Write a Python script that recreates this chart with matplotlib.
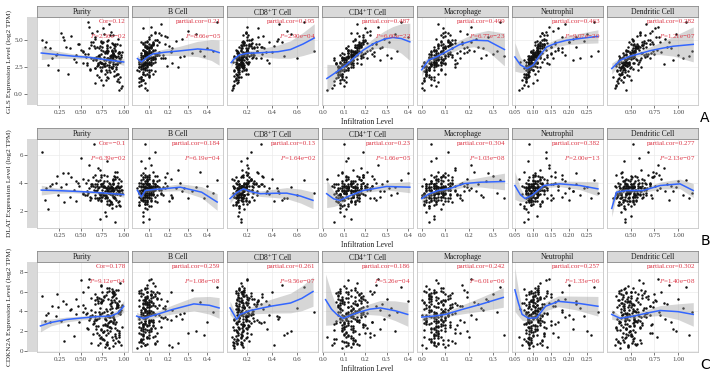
import numpy as np
import matplotlib
matplotlib.use("Agg")
import matplotlib.pyplot as plt

plt.rcParams['font.family'] = ['Liberation Serif', 'DejaVu Serif']
plt.rcParams['mathtext.fontset'] = 'stix'

# ---- sample values (one entry per tumour sample) ----
purity = [0.92, 0.85, 0.97, 0.78, 0.88, 0.95, 0.71, 0.83, 0.90, 0.66,
          0.81, 0.93, 0.74, 0.98, 0.86, 0.62, 0.89, 0.77, 0.95, 0.84,
          0.70, 0.91, 0.87, 0.24, 0.79, 0.96, 0.83, 0.58, 0.92, 0.75,
          0.88, 0.67, 0.94, 0.80, 0.52, 0.85, 0.73, 0.90, 0.12, 0.82,
          0.76, 0.97, 0.61, 0.86, 0.79, 0.35, 0.91, 0.69, 0.84, 0.72,
          0.93, 0.57, 0.81, 0.45, 0.88, 0.74, 0.65, 0.96, 0.78, 0.21,
          0.68, 0.86, 0.77, 0.90, 0.55, 0.83, 0.08, 0.72, 0.94, 0.63,
          0.80, 0.42, 0.89, 0.71, 0.64, 0.92, 0.50, 0.85, 0.30, 0.76,
          0.59, 0.87, 0.74, 0.17, 0.81, 0.66, 0.93, 0.48, 0.70, 0.83,
          0.62, 0.78, 0.39, 0.86, 0.56, 0.73, 0.27, 0.90, 0.68, 0.05,
          0.75, 0.53, 0.84, 0.33, 0.69, 0.44, 0.80, 0.60, 0.14, 0.72,
          0.47, 0.66, 0.22, 0.77, 0.38, 0.58, 0.10, 0.71, 0.29, 0.52,
          0.82, 0.91, 0.76, 0.88, 0.69, 0.95, 0.84, 0.73, 0.90, 0.79,
          0.86, 0.64, 0.93, 0.81, 0.77, 0.89, 0.70, 0.96, 0.83, 0.75,
          0.92, 0.80, 0.67, 0.87, 0.74, 0.94, 0.78, 0.85, 0.61, 0.90,
          0.72, 0.88, 0.83, 0.97, 0.76, 0.68, 0.91, 0.80, 0.86, 0.57,
          0.94, 0.79, 0.87, 0.71, 0.84, 0.92, 0.65, 0.89, 0.77, 0.82,
          0.85, 0.73, 0.96, 0.80, 0.88, 0.62, 0.91, 0.75, 0.83, 0.98,
          0.78, 0.90, 0.70, 0.86, 0.81, 0.93, 0.74, 0.87, 0.66, 0.84,
          0.89, 0.76, 0.95, 0.82, 0.72, 0.88, 0.79, 0.92, 0.85, 0.69]
b_cell = [0.06, 0.05, 0.08, 0.07, 0.05, 0.09, 0.06, 0.04, 0.07, 0.08,
          0.07, 0.06, 0.09, 0.05, 0.08, 0.07, 0.10, 0.06, 0.05, 0.08,
          0.08, 0.10, 0.06, 0.09, 0.07, 0.11, 0.05, 0.08, 0.12, 0.07,
          0.09, 0.07, 0.11, 0.06, 0.10, 0.08, 0.13, 0.07, 0.09, 0.16,
          0.10, 0.08, 0.06, 0.12, 0.09, 0.07, 0.11, 0.19, 0.08, 0.10,
          0.07, 0.11, 0.09, 0.13, 0.06, 0.10, 0.08, 0.12, 0.22, 0.09,
          0.12, 0.08, 0.10, 0.07, 0.14, 0.09, 0.11, 0.25, 0.08, 0.13,
          0.09, 0.13, 0.11, 0.17, 0.08, 0.12, 0.10, 0.28, 0.14, 0.07,
          0.11, 0.15, 0.09, 0.13, 0.20, 0.10, 0.32, 0.12, 0.08, 0.16,
          0.14, 0.10, 0.18, 0.12, 0.26, 0.09, 0.15, 0.36, 0.11, 0.13,
          0.12, 0.21, 0.16, 0.10, 0.30, 0.14, 0.24, 0.11, 0.40, 0.17,
          0.18, 0.27, 0.13, 0.34, 0.22, 0.45, 0.15, 0.38, 0.19, 0.43,
          0.05, 0.07, 0.06, 0.09, 0.08, 0.05, 0.10, 0.07, 0.06, 0.11,
          0.08, 0.06, 0.09, 0.07, 0.12, 0.05, 0.08, 0.10, 0.06, 0.09,
          0.07, 0.10, 0.08, 0.06, 0.09, 0.11, 0.07, 0.05, 0.08, 0.13,
          0.06, 0.09, 0.07, 0.10, 0.08, 0.12, 0.06, 0.09, 0.11, 0.07,
          0.10, 0.08, 0.05, 0.09, 0.07, 0.11, 0.08, 0.14, 0.06, 0.10,
          0.09, 0.07, 0.12, 0.08, 0.10, 0.06, 0.09, 0.11, 0.08, 0.15,
          0.08, 0.11, 0.09, 0.07, 0.13, 0.10, 0.08, 0.12, 0.09, 0.18,
          0.10, 0.12, 0.08, 0.14, 0.09, 0.11, 0.21, 0.10, 0.13, 0.09]
cd8_t = [0.10, 0.12, 0.09, 0.14, 0.11, 0.08, 0.13, 0.10, 0.15, 0.12,
         0.13, 0.11, 0.16, 0.09, 0.14, 0.12, 0.10, 0.17, 0.13, 0.11,
         0.15, 0.12, 0.10, 0.18, 0.13, 0.16, 0.11, 0.14, 0.19, 0.12,
         0.14, 0.17, 0.12, 0.15, 0.20, 0.13, 0.16, 0.11, 0.18, 0.24,
         0.16, 0.13, 0.19, 0.15, 0.12, 0.21, 0.14, 0.17, 0.28, 0.15,
         0.18, 0.14, 0.16, 0.22, 0.13, 0.19, 0.31, 0.15, 0.17, 0.20,
         0.17, 0.20, 0.15, 0.23, 0.18, 0.14, 0.26, 0.16, 0.35, 0.19,
         0.21, 0.16, 0.19, 0.25, 0.17, 0.38, 0.20, 0.15, 0.22, 0.29,
         0.19, 0.23, 0.17, 0.27, 0.42, 0.20, 0.18, 0.30, 0.21, 0.46,
         0.22, 0.18, 0.33, 0.20, 0.25, 0.48, 0.19, 0.28, 0.36, 0.23,
         0.24, 0.40, 0.21, 0.31, 0.52, 0.26, 0.44, 0.20, 0.34, 0.60,
         0.27, 0.45, 0.32, 0.55, 0.24, 0.66, 0.38, 0.50, 0.29, 0.74,
         0.11, 0.13, 0.10, 0.15, 0.12, 0.09, 0.14, 0.11, 0.16, 0.13,
         0.12, 0.15, 0.11, 0.17, 0.13, 0.10, 0.16, 0.14, 0.12, 0.18,
         0.14, 0.11, 0.17, 0.13, 0.15, 0.19, 0.12, 0.16, 0.14, 0.10,
         0.15, 0.18, 0.13, 0.16, 0.12, 0.20, 0.14, 0.17, 0.15, 0.21,
         0.16, 0.13, 0.19, 0.15, 0.17, 0.14, 0.22, 0.16, 0.18, 0.12,
         0.17, 0.20, 0.15, 0.18, 0.23, 0.16, 0.19, 0.14, 0.21, 0.17,
         0.19, 0.16, 0.22, 0.18, 0.15, 0.24, 0.20, 0.17, 0.26, 0.19,
         0.21, 0.18, 0.25, 0.20, 0.23, 0.17, 0.28, 0.22, 0.19, 0.32]
cd4_t = [0.05, 0.07, 0.04, 0.08, 0.06, 0.02, 0.07, 0.09, 0.05, 0.08,
         0.07, 0.09, 0.06, 0.10, 0.08, 0.05, 0.09, 0.07, 0.11, 0.08,
         0.09, 0.08, 0.11, 0.07, 0.10, 0.12, 0.08, 0.10, 0.09, 0.06,
         0.10, 0.12, 0.09, 0.11, 0.08, 0.13, 0.10, 0.12, 0.11, 0.09,
         0.11, 0.13, 0.10, 0.12, 0.14, 0.09, 0.12, 0.11, 0.15, 0.13,
         0.12, 0.14, 0.11, 0.13, 0.15, 0.12, 0.10, 0.16, 0.13, 0.14,
         0.13, 0.15, 0.12, 0.17, 0.14, 0.11, 0.16, 0.14, 0.18, 0.13,
         0.15, 0.13, 0.17, 0.14, 0.19, 0.16, 0.12, 0.18, 0.15, 0.20,
         0.16, 0.18, 0.14, 0.21, 0.17, 0.19, 0.15, 0.23, 0.18, 0.16,
         0.18, 0.20, 0.17, 0.22, 0.19, 0.25, 0.16, 0.21, 0.27, 0.19,
         0.21, 0.24, 0.19, 0.28, 0.22, 0.30, 0.20, 0.26, 0.23, 0.32,
         0.25, 0.29, 0.23, 0.34, 0.27, 0.37, 0.31, 0.24, 0.40, 0.35,
         0.06, 0.08, 0.05, 0.09, 0.07, 0.10, 0.06, 0.08, 0.09, 0.07,
         0.08, 0.10, 0.07, 0.11, 0.09, 0.08, 0.12, 0.09, 0.10, 0.07,
         0.10, 0.09, 0.12, 0.08, 0.11, 0.13, 0.10, 0.09, 0.11, 0.12,
         0.11, 0.13, 0.10, 0.12, 0.14, 0.11, 0.13, 0.12, 0.10, 0.14,
         0.12, 0.14, 0.13, 0.11, 0.15, 0.13, 0.12, 0.16, 0.14, 0.13,
         0.14, 0.13, 0.16, 0.15, 0.12, 0.17, 0.14, 0.15, 0.13, 0.16,
         0.15, 0.17, 0.14, 0.18, 0.16, 0.15, 0.19, 0.17, 0.16, 0.18,
         0.17, 0.19, 0.16, 0.20, 0.18, 0.22, 0.17, 0.19, 0.21, 0.18]
macrophage = [0.01, 0.03, 0.00, 0.02, 0.04, 0.01, 0.05, 0.02, 0.03, 0.00,
              0.02, 0.04, 0.01, 0.06, 0.03, 0.05, 0.02, 0.04, 0.07, 0.01,
              0.04, 0.02, 0.06, 0.03, 0.05, 0.08, 0.01, 0.04, 0.07, 0.03,
              0.05, 0.03, 0.07, 0.04, 0.09, 0.06, 0.02, 0.05, 0.08, 0.04,
              0.06, 0.04, 0.08, 0.05, 0.07, 0.10, 0.03, 0.06, 0.09, 0.05,
              0.07, 0.05, 0.09, 0.06, 0.11, 0.08, 0.04, 0.07, 0.10, 0.06,
              0.08, 0.06, 0.10, 0.07, 0.12, 0.09, 0.05, 0.14, 0.08, 0.11,
              0.09, 0.07, 0.12, 0.10, 0.08, 0.15, 0.06, 0.11, 0.13, 0.09,
              0.10, 0.13, 0.08, 0.16, 0.11, 0.09, 0.18, 0.12, 0.14, 0.07,
              0.12, 0.15, 0.10, 0.20, 0.13, 0.17, 0.09, 0.22, 0.14, 0.11,
              0.14, 0.19, 0.12, 0.24, 0.16, 0.27, 0.11, 0.21, 0.18, 0.25,
              0.17, 0.23, 0.30, 0.19, 0.26, 0.33, 0.21, 0.35, 0.28, 0.32,
              0.01, 0.02, 0.04, 0.00, 0.03, 0.05, 0.02, 0.01, 0.04, 0.03,
              0.03, 0.05, 0.02, 0.06, 0.04, 0.01, 0.05, 0.03, 0.07, 0.02,
              0.04, 0.06, 0.03, 0.05, 0.08, 0.04, 0.02, 0.06, 0.05, 0.07,
              0.05, 0.03, 0.07, 0.06, 0.04, 0.08, 0.05, 0.09, 0.03, 0.06,
              0.06, 0.08, 0.04, 0.07, 0.10, 0.05, 0.07, 0.06, 0.09, 0.08,
              0.07, 0.05, 0.09, 0.08, 0.06, 0.11, 0.07, 0.10, 0.08, 0.12,
              0.08, 0.10, 0.07, 0.12, 0.09, 0.06, 0.11, 0.09, 0.13, 0.10,
              0.10, 0.12, 0.09, 0.14, 0.11, 0.08, 0.16, 0.13, 0.10, 0.19]
neutrophil = [0.080, 0.090, 0.070, 0.085, 0.095, 0.060, 0.080, 0.090, 0.075, 0.100,
              0.090, 0.080, 0.100, 0.085, 0.075, 0.095, 0.090, 0.105, 0.080, 0.065,
              0.095, 0.085, 0.100, 0.090, 0.110, 0.080, 0.095, 0.105, 0.075, 0.090,
              0.100, 0.090, 0.105, 0.085, 0.110, 0.095, 0.115, 0.100, 0.080, 0.120,
              0.100, 0.110, 0.095, 0.115, 0.090, 0.105, 0.120, 0.100, 0.130, 0.085,
              0.105, 0.095, 0.115, 0.110, 0.125, 0.100, 0.090, 0.120, 0.140, 0.105,
              0.110, 0.120, 0.100, 0.130, 0.115, 0.105, 0.150, 0.120, 0.095, 0.125,
              0.115, 0.130, 0.105, 0.120, 0.160, 0.110, 0.135, 0.100, 0.125, 0.170,
              0.120, 0.140, 0.110, 0.155, 0.125, 0.180, 0.115, 0.130, 0.145, 0.190,
              0.130, 0.150, 0.120, 0.170, 0.140, 0.200, 0.125, 0.160, 0.210, 0.135,
              0.140, 0.180, 0.130, 0.220, 0.155, 0.190, 0.240, 0.145, 0.170, 0.230,
              0.160, 0.210, 0.150, 0.250, 0.180, 0.270, 0.200, 0.260, 0.220, 0.280,
              0.080, 0.085, 0.075, 0.090, 0.080, 0.095, 0.085, 0.070, 0.090, 0.080,
              0.085, 0.090, 0.080, 0.095, 0.100, 0.085, 0.090, 0.075, 0.095, 0.090,
              0.090, 0.095, 0.085, 0.100, 0.090, 0.105, 0.080, 0.095, 0.100, 0.085,
              0.095, 0.100, 0.090, 0.105, 0.095, 0.085, 0.110, 0.100, 0.090, 0.105,
              0.100, 0.095, 0.105, 0.110, 0.090, 0.100, 0.115, 0.105, 0.095, 0.110,
              0.105, 0.110, 0.100, 0.115, 0.120, 0.105, 0.095, 0.110, 0.125, 0.100,
              0.110, 0.115, 0.105, 0.120, 0.110, 0.130, 0.100, 0.115, 0.125, 0.110,
              0.115, 0.120, 0.110, 0.130, 0.120, 0.140, 0.115, 0.125, 0.135, 0.150]
dendritic = [0.36, 0.42, 0.33, 0.40, 0.38, 0.45, 0.31, 0.39, 0.44, 0.37,
             0.41, 0.37, 0.46, 0.35, 0.43, 0.39, 0.48, 0.34, 0.42, 0.40,
             0.44, 0.39, 0.47, 0.36, 0.50, 0.42, 0.38, 0.45, 0.41, 0.52,
             0.46, 0.40, 0.49, 0.43, 0.54, 0.38, 0.47, 0.51, 0.44, 0.41,
             0.48, 0.43, 0.52, 0.45, 0.57, 0.40, 0.50, 0.46, 0.60, 0.44,
             0.50, 0.45, 0.55, 0.48, 0.42, 0.58, 0.52, 0.63, 0.47, 0.54,
             0.53, 0.47, 0.58, 0.50, 0.66, 0.44, 0.56, 0.61, 0.49, 0.70,
             0.55, 0.50, 0.62, 0.53, 0.72, 0.48, 0.59, 0.67, 0.52, 0.76,
             0.58, 0.64, 0.52, 0.70, 0.56, 0.80, 0.61, 0.54, 0.85, 0.66,
             0.62, 0.71, 0.57, 0.78, 0.65, 0.90, 0.60, 0.74, 0.95, 0.68,
             0.66, 0.82, 0.60, 0.88, 0.72, 1.00, 0.64, 0.79, 0.93, 1.05,
             0.70, 0.86, 0.75, 0.98, 0.63, 1.08, 0.81, 1.12, 0.77, 1.15,
             0.38, 0.43, 0.35, 0.41, 0.46, 0.37, 0.44, 0.40, 0.34, 0.42,
             0.40, 0.45, 0.38, 0.48, 0.42, 0.36, 0.47, 0.43, 0.39, 0.50,
             0.43, 0.39, 0.49, 0.45, 0.41, 0.52, 0.46, 0.38, 0.44, 0.51,
             0.45, 0.50, 0.42, 0.47, 0.55, 0.44, 0.40, 0.53, 0.48, 0.46,
             0.47, 0.52, 0.44, 0.57, 0.49, 0.43, 0.55, 0.50, 0.60, 0.46,
             0.50, 0.45, 0.56, 0.52, 0.62, 0.48, 0.54, 0.47, 0.59, 0.51,
             0.53, 0.58, 0.49, 0.64, 0.55, 0.51, 0.68, 0.57, 0.52, 0.61,
             0.56, 0.62, 0.53, 0.70, 0.58, 0.65, 0.54, 0.73, 0.60, 0.66]

gls = [1.2, 2.5, 0.6, 1.9, 2.8, 0.4, 1.6, 2.2, 3.1, 1.0,
       2.0, 1.4, 2.9, 0.8, 2.4, 3.3, 1.7, 2.6, 1.1, 3.0,
       2.7, 1.8, 3.4, 2.2, 1.3, 3.0, 2.5, 3.7, 1.9, 2.9,
       3.2, 2.4, 3.8, 1.6, 2.9, 3.5, 2.1, 4.1, 2.7, 3.3,
       2.8, 3.6, 2.3, 4.0, 3.1, 1.9, 3.4, 2.6, 4.3, 3.0,
       3.5, 2.7, 4.2, 3.0, 3.8, 2.2, 3.3, 4.5, 2.9, 3.6,
       3.4, 4.0, 2.8, 4.6, 3.7, 3.1, 4.3, 2.5, 3.9, 5.6,
       3.9, 3.2, 4.5, 3.6, 4.8, 2.9, 4.1, 3.5, 5.0, 6.1,
       4.2, 3.6, 4.9, 3.3, 4.4, 5.2, 3.8, 4.6, 2.8, 6.4,
       4.5, 3.8, 5.3, 4.1, 3.4, 4.8, 5.6, 4.0, 3.1, 5.0,
       4.7, 3.9, 5.4, 4.3, 5.8, 3.6, 4.9, 6.2, 4.2, 3.3,
       4.6, 5.1, 3.7, 5.5, 4.2, 6.6, 4.8, 3.5, 5.2, 4.0,
       1.5, 2.3, 0.9, 2.6, 1.8, 3.0, 2.0, 1.3, 2.8, 2.2,
       2.4, 3.1, 1.9, 2.7, 3.4, 2.1, 2.9, 1.6, 3.2, 2.5,
       2.8, 3.3, 2.4, 3.6, 2.9, 3.9, 2.6, 3.1, 2.2, 3.5,
       3.0, 3.7, 2.7, 3.4, 4.0, 3.2, 2.5, 3.8, 3.3, 2.9,
       3.3, 3.9, 3.0, 4.2, 3.5, 2.8, 4.4, 3.6, 3.1, 4.0,
       3.6, 4.1, 3.2, 4.5, 3.8, 4.8, 3.4, 4.3, 3.0, 3.9,
       3.9, 4.4, 3.5, 4.7, 4.1, 5.1, 3.7, 4.6, 4.2, 3.3,
       4.2, 4.8, 3.8, 5.0, 4.4, 5.4, 4.0, 4.6, 5.7, 4.3]
dlat = [3.2, 2.6, 3.8, 1.9, 3.4, 4.3, 2.9, 3.6, 1.2, 3.1,
        3.5, 4.0, 2.7, 3.3, 2.2, 3.9, 3.0, 4.6, 3.4, 2.5,
        2.8, 3.6, 4.2, 3.1, 1.6, 3.7, 2.4, 3.3, 4.8, 3.0,
        3.9, 2.9, 3.4, 5.6, 3.2, 2.6, 3.8, 4.4, 2.1, 3.5,
        3.3, 4.1, 2.8, 3.6, 3.0, 4.7, 2.3, 3.8, 3.4, 1.4,
        3.7, 3.1, 4.5, 2.7, 3.5, 3.9, 6.8, 3.2, 2.9, 4.0,
        3.4, 2.5, 3.8, 4.3, 3.1, 3.6, 2.8, 4.9, 3.3, 3.9,
        4.1, 3.5, 2.9, 3.7, 4.4, 3.2, 5.8, 3.6, 2.6, 3.8,
        3.6, 4.2, 3.0, 3.9, 2.7, 4.6, 3.4, 3.8, 5.1, 3.3,
        3.8, 3.1, 4.4, 3.5, 4.0, 2.8, 3.7, 4.8, 3.4, 6.2,
        3.5, 4.3, 3.2, 3.9, 2.9, 4.1, 3.6, 5.3, 3.8, 3.1,
        4.0, 3.4, 4.5, 3.7, 3.0, 4.2, 3.6, 2.9, 4.7, 3.3,
        3.3, 2.8, 3.7, 3.0, 3.5, 2.4, 3.9, 3.2, 2.9, 3.6,
        3.1, 3.8, 2.6, 3.4, 4.1, 3.0, 3.6, 2.3, 3.3, 3.9,
        3.5, 2.9, 3.7, 3.2, 4.4, 2.7, 3.4, 3.8, 3.0, 3.6,
        3.2, 3.9, 2.8, 3.5, 3.1, 4.2, 3.3, 2.5, 3.7, 3.4,
        3.6, 3.0, 4.0, 3.3, 2.7, 3.8, 3.5, 4.5, 3.1, 3.4,
        3.4, 3.9, 3.1, 3.6, 4.3, 2.9, 3.7, 3.3, 4.0, 3.5,
        3.7, 3.2, 4.1, 3.5, 3.0, 3.8, 4.6, 3.4, 3.9, 3.6,
        3.5, 4.0, 3.3, 3.8, 4.2, 3.6, 3.1, 4.4, 3.7, 3.9]
cdkn2a = [2.1, 4.5, 0.6, 3.3, 5.8, 1.4, 3.9, 0.3, 2.7, 5.1,
          3.6, 1.0, 4.9, 2.4, 6.3, 0.8, 3.1, 5.5, 1.8, 4.2,
          5.0, 2.9, 0.5, 4.4, 1.6, 3.7, 6.1, 2.2, 4.8, 1.2,
          3.4, 5.7, 2.0, 0.9, 4.6, 3.0, 6.6, 1.5, 3.8, 5.2,
          1.9, 4.1, 3.5, 6.0, 0.7, 2.6, 5.3, 3.2, 4.7, 1.3,
          4.4, 2.3, 5.9, 3.7, 1.1, 4.9, 2.8, 6.9, 0.4, 3.5,
          2.5, 5.4, 3.9, 1.7, 4.3, 6.4, 3.0, 0.8, 5.0, 3.6,
          4.0, 1.5, 5.6, 3.3, 2.7, 4.6, 7.2, 3.8, 1.0, 5.1,
          3.1, 5.8, 2.1, 4.5, 0.6, 3.9, 6.2, 2.9, 4.8, 3.4,
          5.3, 2.6, 4.2, 1.4, 3.7, 6.7, 3.0, 4.9, 2.2, 5.5,
          3.8, 6.0, 2.4, 4.7, 1.8, 5.2, 3.5, 7.3, 2.9, 4.3,
          4.5, 3.2, 5.7, 2.0, 4.1, 6.5, 3.6, 1.6, 5.0, 3.9,
          2.8, 4.3, 1.2, 3.6, 5.2, 0.9, 3.0, 4.8, 2.3, 5.6,
          3.9, 1.7, 4.6, 2.5, 5.4, 3.2, 0.6, 4.1, 2.9, 6.0,
          4.7, 2.1, 3.5, 5.8, 1.4, 4.0, 2.7, 5.1, 3.3, 0.8,
          3.7, 5.5, 2.4, 4.4, 1.9, 3.1, 6.2, 2.6, 4.9, 3.8,
          1.6, 4.2, 3.4, 5.3, 2.0, 4.5, 3.0, 5.9, 1.1, 3.6,
          4.8, 2.2, 3.9, 6.4, 2.8, 4.1, 1.3, 5.0, 3.5, 4.6,
          3.2, 5.7, 2.5, 4.3, 0.7, 3.8, 5.2, 2.9, 4.7, 3.4,
          5.1, 2.6, 4.0, 1.8, 3.6, 6.1, 3.1, 4.4, 2.3, 5.4]

# ---- loess fits: (x, fit, half-width of grey band) ----
gls_fit = [
    [(0.04, 3.78, 0.6), (0.2, 3.65, 0.35), (0.4, 3.5, 0.22), (0.6, 3.38, 0.17), (0.75, 3.22, 0.17), (0.88, 3.08, 0.2), (1.0, 2.96, 0.3)],
    [(0.04, 3.27, 0.35), (0.06, 2.96, 0.2), (0.09, 3.4, 0.15), (0.12, 3.7, 0.2), (0.18, 3.85, 0.3), (0.25, 3.96, 0.4), (0.35, 4.15, 0.7), (0.42, 4.05, 0.95), (0.46, 3.82, 1.15)],
    [(0.075, 2.9, 0.4), (0.1, 3.25, 0.2), (0.14, 3.6, 0.15), (0.2, 3.75, 0.2), (0.3, 3.8, 0.35), (0.45, 3.9, 0.6), (0.55, 4.1, 0.8), (0.65, 4.6, 1.05), (0.74, 5.15, 1.3)],
    [(0.018, 1.45, 1.3), (0.06, 2.0, 0.7), (0.11, 2.7, 0.25), (0.15, 3.4, 0.2), (0.19, 4.05, 0.3), (0.24, 4.65, 0.5), (0.29, 5.05, 0.75), (0.33, 5.2, 1.0), (0.37, 5.1, 1.35), (0.41, 4.8, 1.7)],
    [(0.0, 2.25, 0.6), (0.03, 3.15, 0.3), (0.06, 3.4, 0.2), (0.1, 3.85, 0.25), (0.16, 4.55, 0.4), (0.22, 4.95, 0.6), (0.28, 4.9, 0.95), (0.35, 4.1, 1.5)],
    [(0.05, 3.42, 1.3), (0.065, 2.7, 0.7), (0.083, 2.36, 0.3), (0.1, 2.66, 0.2), (0.12, 3.6, 0.25), (0.138, 4.33, 0.3), (0.165, 4.7, 0.35), (0.193, 4.94, 0.4), (0.24, 5.15, 0.5), (0.28, 5.3, 0.6)],
    [(0.3, 2.36, 0.5), (0.39, 3.12, 0.25), (0.5, 3.5, 0.2), (0.6, 3.73, 0.25), (0.7, 3.98, 0.35), (0.81, 4.18, 0.55), (0.95, 4.4, 0.9), (1.16, 4.57, 1.6)],
]
dlat_fit = [
    [(0.04, 3.48, 0.35), (0.2, 3.45, 0.2), (0.4, 3.4, 0.12), (0.6, 3.34, 0.1), (0.75, 3.28, 0.1), (0.88, 3.22, 0.12), (1.0, 3.15, 0.18)],
    [(0.04, 3.45, 0.3), (0.06, 2.98, 0.15), (0.08, 3.45, 0.12), (0.12, 3.52, 0.12), (0.17, 3.57, 0.18), (0.26, 3.69, 0.25), (0.37, 3.33, 0.4), (0.45, 2.62, 0.6)],
    [(0.066, 2.87, 0.35), (0.12, 3.3, 0.15), (0.173, 3.57, 0.12), (0.24, 3.35, 0.15), (0.31, 3.22, 0.2), (0.42, 3.25, 0.3), (0.52, 3.26, 0.4), (0.63, 3.05, 0.5), (0.73, 2.74, 0.6)],
    [(0.017, 3.22, 1.0), (0.05, 2.85, 0.55), (0.08, 2.74, 0.3), (0.13, 3.1, 0.12), (0.19, 3.45, 0.15), (0.3, 3.74, 0.25), (0.41, 3.69, 0.4)],
    [(0.0, 2.87, 0.3), (0.03, 3.2, 0.15), (0.07, 3.45, 0.12), (0.12, 3.6, 0.15), (0.18, 3.95, 0.25), (0.25, 4.05, 0.35), (0.35, 4.1, 0.6)],
    [(0.05, 3.81, 1.0), (0.065, 3.15, 0.5), (0.078, 2.87, 0.2), (0.097, 3.1, 0.12), (0.13, 3.81, 0.15), (0.175, 3.93, 0.2), (0.23, 3.81, 0.3), (0.28, 3.57, 0.5)],
    [(0.3, 2.16, 0.6), (0.35, 3.33, 0.25), (0.46, 3.45, 0.12), (0.63, 3.45, 0.15), (0.81, 3.81, 0.25), (1.02, 3.93, 0.35), (1.16, 3.45, 0.5)],
]
cdkn2a_fit = [
    [(0.03, 2.5, 0.6), (0.15, 2.85, 0.35), (0.33, 3.15, 0.25), (0.5, 3.3, 0.2), (0.7, 3.45, 0.2), (0.85, 3.5, 0.25), (0.93, 3.8, 0.35), (1.0, 4.5, 0.6)],
    [(0.036, 3.5, 0.4), (0.07, 3.27, 0.25), (0.14, 3.67, 0.3), (0.22, 4.17, 0.45), (0.33, 4.74, 0.7), (0.41, 4.6, 0.9), (0.46, 4.33, 1.05)],
    [(0.066, 4.33, 0.7), (0.12, 3.17, 0.3), (0.146, 3.67, 0.25), (0.23, 4.07, 0.35), (0.39, 4.5, 0.7), (0.55, 4.83, 1.0), (0.64, 5.3, 1.25), (0.73, 6.0, 1.5)],
    [(0.012, 5.17, 2.6), (0.04, 4.2, 1.6), (0.065, 3.67, 0.7), (0.095, 3.27, 0.3), (0.16, 3.83, 0.35), (0.22, 4.2, 0.55), (0.27, 4.33, 0.75), (0.34, 4.05, 1.0), (0.40, 3.67, 1.2)],
    [(0.0, 3.4, 0.4), (0.05, 3.5, 0.25), (0.1, 3.67, 0.25), (0.17, 4.17, 0.45), (0.25, 4.7, 0.7), (0.345, 5.4, 1.0)],
    [(0.05, 6.17, 2.2), (0.06, 4.8, 1.3), (0.07, 3.67, 0.6), (0.088, 3.27, 0.3), (0.11, 3.33, 0.3), (0.135, 4.5, 0.45), (0.17, 5.0, 0.55), (0.22, 4.83, 0.7), (0.28, 4.5, 1.0)],
    [(0.3, 3.67, 0.5), (0.39, 3.27, 0.25), (0.53, 3.5, 0.25), (0.67, 3.8, 0.35), (0.81, 4.07, 0.5), (1.0, 3.95, 0.8), (1.16, 3.67, 1.2)],
]

gls_stats = [("Cor", "0.12", "2.56e-02"), ("partial.cor", "0.21", "8.66e-05"),
             ("partial.cor", "0.195", "2.90e-04"), ("partial.cor", "0.487", "6.60e-22"),
             ("partial.cor", "0.499", "6.77e-23"), ("partial.cor", "0.463", "9.07e-20"),
             ("partial.cor", "0.282", "1.21e-07")]
dlat_stats = [("Cor", "-0.1", "6.39e-02"), ("partial.cor", "0.184", "6.19e-04"),
              ("partial.cor", "0.13", "1.64e-02"), ("partial.cor", "0.23", "1.66e-05"),
              ("partial.cor", "0.304", "1.03e-08"), ("partial.cor", "0.382", "2.00e-13"),
              ("partial.cor", "0.277", "2.13e-07")]
cdkn2a_stats = [("Cor", "0.178", "9.12e-04"), ("partial.cor", "0.259", "1.08e-08"),
                ("partial.cor", "0.261", "9.56e-07"), ("partial.cor", "0.186", "5.26e-04"),
                ("partial.cor", "0.242", "6.01e-06"), ("partial.cor", "0.257", "1.33e-06"),
                ("partial.cor", "0.302", "1.40e-08")]

cell_names = ["Purity", "B Cell", "CD8$^{+}$T Cell", "CD4$^{+}$T Cell",
              "Macrophage", "Neutrophil", "Dendritic Cell"]
x_ticks = [[0.25, 0.5, 0.75, 1.0], [0.1, 0.2, 0.3, 0.4], [0.2, 0.4, 0.6],
           [0.0, 0.1, 0.2, 0.3, 0.4], [0.0, 0.1, 0.2, 0.3],
           [0.05, 0.10, 0.15, 0.20, 0.25], [0.5, 0.75, 1.0]]
x_labels = [["0.25", "0.50", "0.75", "1.00"], ["0.1", "0.2", "0.3", "0.4"],
            ["0.2", "0.4", "0.6"], ["0.0", "0.1", "0.2", "0.3", "0.4"],
            ["0.0", "0.1", "0.2", "0.3"], ["0.05", "0.10", "0.15", "0.20", "0.25"],
            ["0.50", "0.75", "1.00"]]
x_lims = [(-0.01, 1.05), (0.012, 0.48), (0.042, 0.77), (-0.005, 0.425),
          (-0.02, 0.365), (0.042, 0.294), (0.25, 1.21)]

genes = ["GLS", "DLAT", "CDKN2A"]
gene_values = [gls, dlat, cdkn2a]
gene_fits = [gls_fit, dlat_fit, cdkn2a_fit]
gene_stats = [gls_stats, dlat_stats, cdkn2a_stats]
y_ticks = [[0.0, 2.5, 5.0], [2, 4, 6], [0, 2, 4, 6, 8]]
y_labels = [["0.0", "2.5", "5.0"], ["2", "4", "6"], ["0", "2", "4", "6", "8"]]
y_lims = [(-0.97, 7.07), (0.75, 7.16), (-0.15, 9.0)]
panel_letters = ["A", "B", "C"]

cell_x = [purity, b_cell, cd8_t, cd4_t, macrophage, neutrophil, dendritic]

W, H = 711, 375
fig = plt.figure(figsize=(W / 100, H / 100), dpi=100)


def box(x, top, w, h):
    return [x / W, 1 - (top + h) / H, w / W, h / H]


row_top = [17, 139, 262]
row_h = [88, 89, 90]
strip_h = 11
red = '#DC3545'
tick_col = '#444444'

for r in range(3):
    top, ph = row_top[r], row_h[r]
    # grey strip to the left with the y axis
    ax_side = fig.add_axes(box(27, top, 10, ph))
    ax_side.set_facecolor('#D9D9D9')
    ax_side.set_ylim(*y_lims[r])
    ax_side.set_xticks([])
    ax_side.set_yticks(y_ticks[r])
    ax_side.set_yticklabels(y_labels[r])
    ax_side.tick_params(axis='y', length=2, width=0.5, color=tick_col,
                        labelsize=5, labelcolor=tick_col, pad=1)
    for s in ax_side.spines.values():
        s.set_visible(False)
    fig.text(9 / W, 1 - (top + ph / 2) / H,
             f"{genes[r]} Expression Level (log2 TPM)",
             rotation=90, ha='center', va='center', fontsize=5.2, color='#222222')

    yv = np.array(gene_values[r])
    for c in range(7):
        x0 = 37 + 95 * c
        ax = fig.add_axes(box(x0, top, 91, ph))
        ax.scatter(np.array(cell_x[c]), yv, s=3.2, c='#111111', linewidths=0, zorder=2)
        fit = np.array(gene_fits[r][c])
        ax.fill_between(fit[:, 0], fit[:, 1] - fit[:, 2], fit[:, 1] + fit[:, 2],
                        color='#999999', alpha=0.4, lw=0, zorder=3)
        ax.plot(fit[:, 0], fit[:, 1], color='#3366FF', lw=1.1, zorder=4)
        ax.set_xlim(*x_lims[c])
        ax.set_ylim(*y_lims[r])
        ax.set_xticks(x_ticks[c])
        ax.set_xticklabels(x_labels[c])
        ax.set_yticks(y_ticks[r])
        ax.tick_params(axis='x', length=2, width=0.5, color=tick_col,
                       labelsize=5, labelcolor=tick_col, pad=1.5)
        ax.tick_params(axis='y', left=False, labelleft=False)
        ax.grid(True, color='#EBEBEB', lw=0.5, zorder=0)
        ax.set_axisbelow(True)
        for s in ax.spines.values():
            s.set_color('#C8C8C8')
            s.set_linewidth(0.6)
        lab, val, pval = gene_stats[r][c]
        ax.text(0.975, 0.975, f"{lab}={val}".replace('-', '\u2212'), transform=ax.transAxes,
                ha='right', va='top', fontsize=5, color=red, zorder=5)
        ax.text(0.975, 0.83, "$P$=" + pval.replace('-', '\u2212'), transform=ax.transAxes,
                ha='right', va='top', fontsize=5, color=red, zorder=5)

        # facet strip
        ax_st = fig.add_axes(box(x0, top - strip_h, 91, strip_h))
        ax_st.set_facecolor('#D9D9D9')
        ax_st.set_xticks([])
        ax_st.set_yticks([])
        for s in ax_st.spines.values():
            s.set_color('#8C8C8C')
            s.set_linewidth(0.6)
        ax_st.text(0.5, 0.45, cell_names[c], transform=ax_st.transAxes,
                   ha='center', va='center', fontsize=5.5, color='#1A1A1A')

    fig.text(367.5 / W, 1 - (top + ph + 17) / H, "Infiltration Level",
             ha='center', va='center', fontsize=5.5, color='#222222')
    fig.text(705 / W, 1 - (top + ph + 13) / H, panel_letters[r],
             ha='center', va='center', fontsize=10, color='black',
             family='DejaVu Sans')

fig.savefig("out.png", dpi=100)
